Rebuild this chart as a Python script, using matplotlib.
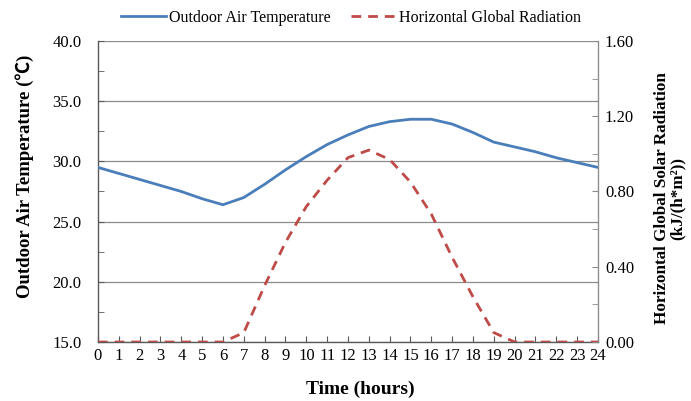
import matplotlib
matplotlib.use("Agg")
import matplotlib.pyplot as plt
from matplotlib.ticker import MultipleLocator, FormatStrFormatter
from matplotlib.lines import Line2D

hours = list(range(25))
temperature = [29.5, 29.0, 28.5, 28.0, 27.5, 26.9, 26.4, 27.0, 28.1, 29.3,
               30.4, 31.4, 32.2, 32.9, 33.3, 33.5, 33.5, 33.1, 32.4, 31.6,
               31.2, 30.8, 30.3, 29.9, 29.5]
radiation = [0.0, 0.0, 0.0, 0.0, 0.0, 0.0, 0.0, 0.05, 0.30, 0.53,
             0.72, 0.86, 0.98, 1.02, 0.97, 0.85, 0.68, 0.45, 0.24, 0.05,
             0.0, 0.0, 0.0, 0.0, 0.0]

BLUE = "#4A7EBB"
RED = "#BE4B48"
plt.rcParams["font.family"] = ["Liberation Serif", "DejaVu Serif"]

fig = plt.figure(figsize=(6.91, 4.01), dpi=100)
ax = fig.add_axes([0.1418, 0.1471, 0.7236, 0.7507])
ax2 = ax.twinx()

ax.plot(hours, temperature, color=BLUE, lw=2.0, zorder=3)
ax2.plot(hours, radiation, color=RED, lw=2.0, dashes=(3.5, 2.5), zorder=3)

ax.set_xlim(0, 24)
ax.set_ylim(15, 40)
ax2.set_ylim(0, 1.6)
ax.set_xticks(hours)
ax.yaxis.set_major_locator(MultipleLocator(5))
ax.yaxis.set_minor_locator(MultipleLocator(2.5))
ax2.yaxis.set_major_locator(MultipleLocator(0.4))
ax2.yaxis.set_minor_locator(MultipleLocator(0.2))
ax.yaxis.set_major_formatter(FormatStrFormatter("%.1f"))
ax2.yaxis.set_major_formatter(FormatStrFormatter("%.2f"))

ax.grid(True, axis="y", which="major", color="#8c8c8c", lw=0.9, zorder=0)
ax.set_axisbelow(True)
ax.spines["top"].set_visible(False)
ax2.spines["top"].set_visible(False)
for sp in ("left", "bottom"):
    ax.spines[sp].set_color("#595959")
    ax.spines[sp].set_linewidth(1.0)
ax2.spines["right"].set_color("#8c8c8c")
ax2.spines["left"].set_visible(False)
ax2.spines["bottom"].set_visible(False)

ax.tick_params(axis="both", which="both", direction="in", labelsize=12,
               color="#595959", length=4)
ax.tick_params(axis="x", pad=4)
ax.tick_params(axis="y", pad=12)
ax2.tick_params(axis="y", which="both", direction="in", labelsize=12,
                color="#8c8c8c", length=4, pad=5)

ax.set_xlabel("Time (hours)", fontsize=14, fontweight="bold", va="top")
ax.xaxis.set_label_coords(0.524, -0.127)
ax.set_ylabel("Outdoor Air Temperature (\u2103)", fontsize=13.5,
              fontweight="bold", va="center",
              family=["Liberation Serif", "Noto Sans CJK SC", "DejaVu Serif"])
ax.yaxis.set_label_coords(-0.146, 0.55)
ax2.set_ylabel("Horizontal Global Solar Radiation\n(kJ/(h*m\u00b2))",
               fontsize=12.3, fontweight="bold", rotation=90, va="center",
               linespacing=1.0)
ax2.yaxis.set_label_coords(1.144, 0.478)

handles = [Line2D([], [], color=BLUE, lw=2.0),
           Line2D([], [], color=RED, lw=2.0, dashes=(3.5, 2.5))]
fig.legend(handles, ["Outdoor Air Temperature", "Horizontal Global Radiation"],
           loc="center", bbox_to_anchor=(0.508, 0.955), ncol=2, frameon=False,
           fontsize=11.5, handlelength=2.8, columnspacing=1.3, handletextpad=0.2)

fig.savefig("out.png", dpi=100)
